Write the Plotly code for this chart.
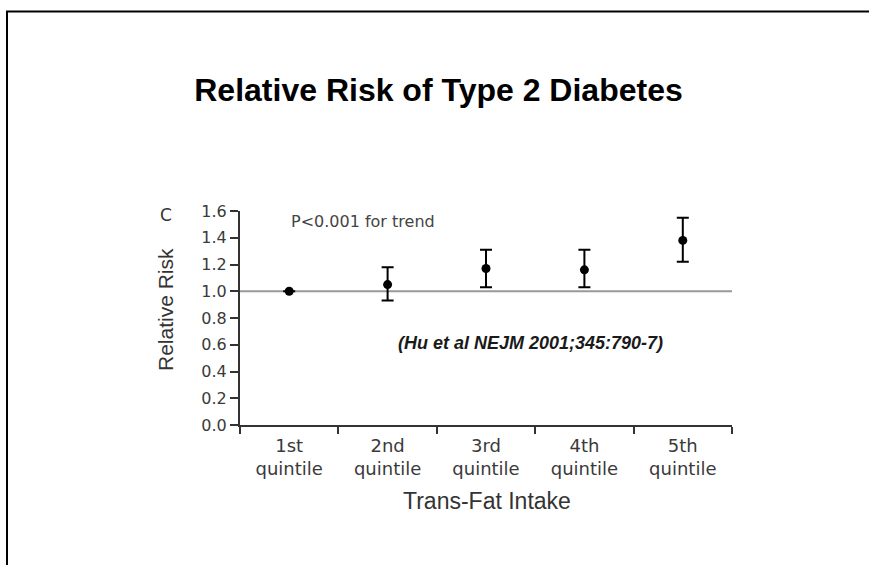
import plotly.graph_objects as go

# ---- data ----
categories = ["1st<br>quintile", "2nd<br>quintile", "3rd<br>quintile", "4th<br>quintile", "5th<br>quintile"]
relative_risk = [1.00, 1.05, 1.17, 1.16, 1.38]
ci_upper = [1.00, 1.18, 1.31, 1.31, 1.55]
ci_lower = [1.00, 0.93, 1.03, 1.03, 1.22]
y_ticks = [0.0, 0.2, 0.4, 0.6, 0.8, 1.0, 1.2, 1.4, 1.6]
y_tick_text = ["0.0", "0.2", "0.4", "0.6", "0.8", "1.0", "1.2", "1.4", "1.6"]

W, H = 869, 565
L, R, T, B = 240, 137, 211, 140
PW, PH = W - L - R, H - T - B


def px(x):
    return (x - L) / PW


def py(y):
    return (H - B - y) / PH


err_plus = [u - v for u, v in zip(ci_upper, relative_risk)]
err_minus = [v - l for v, l in zip(relative_risk, ci_lower)]

fig = go.Figure()
fig.add_trace(go.Scatter(
    x=categories, y=relative_risk, mode="markers",
    marker=dict(color="black", size=9),
    error_y=dict(type="data", symmetric=False, array=err_plus, arrayminus=err_minus,
                 color="black", thickness=2, width=6),
    showlegend=False, cliponaxis=False,
))

SMALL = "DejaVu Sans"
ARIAL = "Liberation Sans"

fig.update_layout(
    width=W, height=H,
    margin=dict(l=L, r=R, t=T, b=B),
    paper_bgcolor="white", plot_bgcolor="white",
    title=dict(text="Relative Risk of Type 2 Diabetes", x=438.5 / W, y=1 - 90 / H,
               xanchor="center", yanchor="middle",
               font=dict(family=ARIAL, size=32, color="black", weight="bold")),
    xaxis=dict(
        type="category", range=[-0.5, 4.5], tickson="boundaries",
        showline=True, linewidth=2, linecolor="#333",
        ticks="outside", ticklen=7, tickwidth=2, tickcolor="#333",
        showgrid=False, zeroline=False, ticklabelstandoff=3,
        tickfont=dict(family=SMALL, size=18, color="#3a3a3a"),
    ),
    yaxis=dict(
        range=[0, 1.6], tickvals=y_ticks, ticktext=y_tick_text,
        showline=True, linewidth=2, linecolor="#333",
        ticks="outside", ticklen=8, tickwidth=2, tickcolor="#333",
        showgrid=False, zeroline=False,
        tickfont=dict(family=SMALL, size=16, color="#3a3a3a"),
    ),
    shapes=[
        dict(type="line", xref="x domain", yref="y", x0=0, x1=1, y0=1.0, y1=1.0,
             line=dict(color="#999", width=2), layer="below"),
        dict(type="rect", xref="paper", yref="paper",
             x0=px(7), x1=px(900), y0=py(600), y1=py(11.5),
             line=dict(color="black", width=2), fillcolor="rgba(0,0,0,0)"),
    ],
    annotations=[
        dict(text="C", x=px(166), y=py(215), xref="paper", yref="paper",
             showarrow=False, xanchor="center", yanchor="middle",
             font=dict(family=SMALL, size=17, color="#333")),
        dict(text="P<0.001 for trend", x=px(289), y=py(221), xref="paper", yref="paper",
             showarrow=False, xanchor="left", yanchor="middle",
             font=dict(family=SMALL, size=16, color="#444")),
        dict(text="<b><i>(Hu et al NEJM 2001;345:790-7)</i></b>", x=px(530), y=py(343),
             xref="paper", yref="paper", showarrow=False, xanchor="center", yanchor="middle",
             font=dict(family=ARIAL, size=18, color="#1a1a1a")),
        dict(text="Trans-Fat Intake", x=px(487), y=py(501), xref="paper", yref="paper",
             showarrow=False, xanchor="center", yanchor="middle",
             font=dict(family=ARIAL, size=23, color="#333")),
        dict(text="Relative Risk", x=px(165), y=py(310), xref="paper", yref="paper",
             showarrow=False, xanchor="center", yanchor="middle", textangle=-90,
             font=dict(family=ARIAL, size=21, color="#333")),
    ],
)

fig.write_html("out.html")
